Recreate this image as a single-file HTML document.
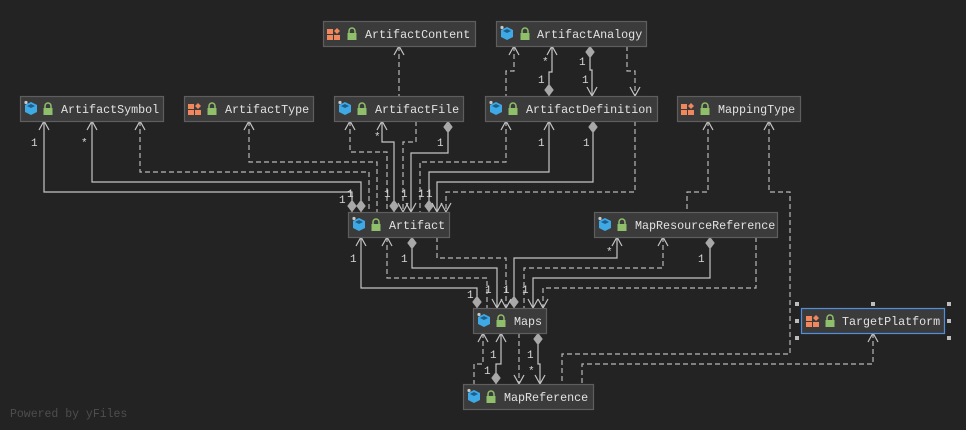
<!DOCTYPE html>
<html><head><meta charset="utf-8"><style>
html,body{margin:0;padding:0;background:#232323;}
svg{display:block;}
text{font-family:"Liberation Mono",monospace;}
</style></head><body>
<svg width="966" height="430" viewBox="0 0 966 430" xmlns="http://www.w3.org/2000/svg">
<defs>
<marker id="arr" markerUnits="userSpaceOnUse" markerWidth="14" markerHeight="14" refX="9" refY="6" orient="auto-start-reverse" viewBox="-1 0 14 12">
<path d="M0,1 L9,6 L0,11" fill="none" stroke="#c4c4c4" stroke-width="1.2"/>
</marker>
<marker id="dia" markerUnits="userSpaceOnUse" markerWidth="14" markerHeight="10" refX="12" refY="5" orient="auto-start-reverse" viewBox="0 0 14 10">
<path d="M0,5 L6,0.5 L12,5 L6,9.5 Z" fill="#a8a8a8" stroke="#a8a8a8" stroke-width="0.5"/>
</marker>
<g id="cube">
<path d="M1,5 L7,2 L13,5 L13,12 L7,15 L1,12 Z" fill="#3fa9e6"/>
<path d="M3,6 L7,4 L11,6 L7,8 Z" fill="#1c5f8a"/>
<circle cx="2" cy="2.5" r="1.6" fill="#c8c8c8"/>
</g>
<g id="grid">
<rect x="0" y="3" width="6" height="5" fill="#f2875e"/>
<rect x="0" y="9" width="6" height="5" fill="#f2875e"/>
<rect x="7" y="9" width="6" height="5" fill="#f2875e"/>
<path d="M10,2 L13,5 L10,8 L7,5 Z" fill="#f2875e"/>
</g>
<g id="lock">
<path d="M2,6 L2,4 A3,3 0 0 1 8,4 L8,6" fill="none" stroke="#8fbf6a" stroke-width="1.5"/>
<rect x="0.5" y="6" width="9" height="7" fill="#8fbf6a"/>
</g>
</defs>

<g fill="none" stroke="#c4c4c4" stroke-width="1.2">
<!-- solid -->
<g>
<polyline points="552,46 552,72 549,72 549,96" marker-start="url(#arr)" marker-end="url(#dia)"/>
<polyline points="590,46 590,70 592,70 592,96" marker-start="url(#dia)" marker-end="url(#arr)"/>
<polyline points="44,121 44,192 352,192 352,212" marker-start="url(#arr)" marker-end="url(#dia)"/>
<polyline points="92,121 92,182 361,182 361,212" marker-start="url(#arr)" marker-end="url(#dia)"/>
<polyline points="382,121 382,142 394,142 394,212" marker-start="url(#arr)" marker-end="url(#dia)"/>
<polyline points="448,121 448,153 411,153 411,212" marker-start="url(#dia)" marker-end="url(#arr)"/>
<polyline points="549,121 549,172 429,172 429,212" marker-start="url(#arr)" marker-end="url(#dia)"/>
<polyline points="593,121 593,182 437,182 437,212" marker-start="url(#dia)" marker-end="url(#arr)"/>
<polyline points="361,237 361,288 477,288 477,308" marker-start="url(#arr)" marker-end="url(#dia)"/>
<polyline points="412,237 412,268 497,268 497,308" marker-start="url(#dia)" marker-end="url(#arr)"/>
<polyline points="617,237 617,258 514,258 514,308" marker-start="url(#arr)" marker-end="url(#dia)"/>
<polyline points="710,237 710,278 533,278 533,308" marker-start="url(#dia)" marker-end="url(#arr)"/>
<polyline points="501,333 501,364 496,364 496,384" marker-start="url(#arr)" marker-end="url(#dia)"/>
<polyline points="538,333 538,364 540,364 540,384" marker-start="url(#dia)" marker-end="url(#arr)"/>
</g>
<!-- dashed -->
<g stroke-dasharray="5,3" stroke="#b8b8b8">
<polyline points="399,46 399,96" marker-start="url(#arr)"/>
<polyline points="514,46 514,71 506,71 506,96" marker-start="url(#arr)"/>
<polyline points="627,46 627,71 635,71 635,96" marker-end="url(#arr)"/>
<polyline points="140,121 140,172 369,172 369,212" marker-start="url(#arr)"/>
<polyline points="249,121 249,162 377,162 377,212" marker-start="url(#arr)"/>
<polyline points="350,121 350,152 387,152 387,212" marker-start="url(#arr)"/>
<polyline points="416,121 416,142 403,142 403,212" marker-end="url(#arr)"/>
<polyline points="506,121 506,162 420,162 420,212" marker-start="url(#arr)"/>
<polyline points="635,121 635,192 446,192 446,212" marker-end="url(#arr)"/>
<polyline points="387,237 387,278 487,278 487,308" marker-start="url(#arr)"/>
<polyline points="437,237 437,258 506,258 506,308" marker-end="url(#arr)"/>
<polyline points="663,237 663,268 524,268 524,308" marker-start="url(#arr)"/>
<polyline points="756,237 756,288 543,288 543,308" marker-end="url(#arr)"/>
<polyline points="708,121 708,192 687,192 687,212" marker-start="url(#arr)"/>
<polyline points="769,121 769,192 790,192 790,354 562,354 562,384" marker-start="url(#arr)"/>
<polyline points="873,333 873,364 582,364 582,384" marker-start="url(#arr)"/>
<polyline points="483,333 483,364 474,364 474,384" marker-start="url(#arr)"/>
<polyline points="519,333 519,384" marker-end="url(#arr)"/>
</g>
</g>

<!-- boxes -->
<g stroke="#5e5e5e" stroke-width="1.2" fill="#3b3b3b">
<rect x="323.5" y="21.5" width="152" height="25"/>
<rect x="496.5" y="21.5" width="150" height="25"/>
<rect x="20.5" y="96.5" width="143" height="25"/>
<rect x="184.5" y="96.5" width="129" height="25"/>
<rect x="334.5" y="96.5" width="129" height="25"/>
<rect x="485.5" y="96.5" width="172" height="25"/>
<rect x="677.5" y="96.5" width="123" height="25"/>
<rect x="348.5" y="212.5" width="101" height="25"/>
<rect x="594.5" y="212.5" width="183" height="25"/>
<rect x="473.5" y="308.5" width="73" height="25"/>
<rect x="463.5" y="384.5" width="130" height="25"/>
<rect x="801.5" y="308.5" width="143" height="25" stroke="#4f8fde"/>
</g>
<g fill="#bdbdbd">
<rect x="795" y="302" width="4" height="4"/><rect x="871" y="302" width="4" height="4"/><rect x="947" y="302" width="4" height="4"/>
<rect x="795" y="319" width="4" height="4"/><rect x="947" y="319" width="4" height="4"/>
<rect x="795" y="336" width="4" height="4"/><rect x="947" y="336" width="4" height="4"/>
</g>

<!-- icons -->
<use href="#grid" x="327" y="26"/><use href="#lock" x="347" y="27"/>
<use href="#cube" x="500" y="25"/><use href="#lock" x="520" y="27"/>
<use href="#cube" x="24" y="100"/><use href="#lock" x="43" y="102"/>
<use href="#grid" x="188" y="101"/><use href="#lock" x="207" y="102"/>
<use href="#cube" x="338" y="100"/><use href="#lock" x="357" y="102"/>
<use href="#cube" x="489" y="100"/><use href="#lock" x="508" y="102"/>
<use href="#grid" x="681" y="101"/><use href="#lock" x="700" y="102"/>
<use href="#cube" x="352" y="216"/><use href="#lock" x="371" y="218"/>
<use href="#cube" x="598" y="216"/><use href="#lock" x="617" y="218"/>
<use href="#cube" x="477" y="312"/><use href="#lock" x="496" y="314"/>
<use href="#cube" x="467" y="388"/><use href="#lock" x="486" y="390"/>
<use href="#grid" x="806" y="313"/><use href="#lock" x="825" y="314"/>

<g fill="#e2e2e2" font-size="11.7">
<text x="365" y="38">ArtifactContent</text>
<text x="537" y="38">ArtifactAnalogy</text>
<text x="61" y="113">ArtifactSymbol</text>
<text x="225" y="113">ArtifactType</text>
<text x="375" y="113">ArtifactFile</text>
<text x="526" y="113">ArtifactDefinition</text>
<text x="718" y="113">MappingType</text>
<text x="389" y="229">Artifact</text>
<text x="635" y="229">MapResourceReference</text>
<text x="514" y="325">Maps</text>
<text x="504" y="401">MapReference</text>
<text x="842" y="325">TargetPlatform</text>
</g>

<g fill="#d8d8d8" font-size="11">
<text x="542" y="65">*</text><text x="538" y="83">1</text>
<text x="579" y="65">1</text><text x="582" y="83">1</text>
<text x="31" y="146">1</text><text x="81" y="146">*</text>
<text x="374" y="140">*</text><text x="437" y="146">1</text>
<text x="538" y="146">1</text><text x="583" y="146">1</text>
<text x="339" y="203">1</text><text x="347" y="197">1</text>
<text x="384" y="197">1</text><text x="401" y="197">1</text>
<text x="418" y="197">1</text><text x="426" y="197">1</text>
<text x="350" y="262">1</text><text x="401" y="262">1</text>
<text x="606" y="255">*</text><text x="698" y="262">1</text>
<text x="467" y="298">1</text><text x="485" y="293">1</text>
<text x="503" y="293">1</text><text x="522" y="293">1</text>
<text x="490" y="358">1</text><text x="484" y="374">1</text>
<text x="527" y="358">1</text><text x="528" y="374">*</text>
</g>

<text x="10" y="417" font-family="Liberation Sans, sans-serif" font-size="11.5" fill="#4e4e4e">Powered by yFiles</text>
</svg>
</body></html>
